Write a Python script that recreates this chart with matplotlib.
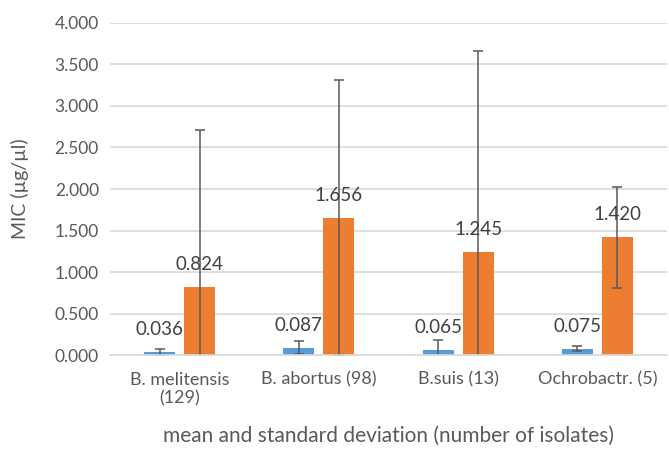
import numpy as np
import matplotlib
matplotlib.use('Agg')
import matplotlib.pyplot as plt

plt.rcParams['font.family'] = ['Lato', 'DejaVu Sans']

# data
categories = ['B. melitensis\n(129)', 'B. abortus (98)', 'B.suis (13)', 'Ochrobactr. (5)']
blue_mean = [0.036, 0.087, 0.065, 0.075]
blue_sd = [0.033, 0.079, 0.116, 0.030]
orange_mean = [0.824, 1.656, 1.245, 1.420]
orange_sd = [1.887, 1.661, 2.418, 0.610]

blue = '#5B9BD5'
orange = '#ED7D31'
grey = '#595959'

fig = plt.figure(figsize=(6.69, 4.50), dpi=100)
ax = fig.add_axes([0.1644, 0.211, 0.8326, 0.738])

x = np.arange(len(categories))
w = 0.223
off = 0.144

eb = dict(ecolor=grey, elinewidth=1.1, capsize=3.5, capthick=1.1)
b1 = ax.bar(x - off, blue_mean, w, color=blue, yerr=blue_sd, error_kw=eb, zorder=2)
b2 = ax.bar(x + off, orange_mean, w, color=orange, yerr=orange_sd, error_kw=eb, zorder=2)

for bars, vals in ((b1, blue_mean), (b2, orange_mean)):
    for r, v in zip(bars, vals):
        ax.annotate(f'{v:.3f}', (r.get_x() + r.get_width() / 2, v),
                    xytext=(0, 10), textcoords='offset points',
                    ha='center', va='bottom', fontsize=13.5, color='#404040', zorder=3)

ax.set_xlim(-0.5, len(categories) - 0.5)
ax.set_ylim(0, 4)
ax.set_yticks(np.arange(0, 4.01, 0.5))
ax.set_yticklabels([f'{t:.3f}' for t in np.arange(0, 4.01, 0.5)])
ax.set_xticks(x)
ax.set_xticklabels(categories)

ax.yaxis.grid(True, color='#D9D9D9', linewidth=1.2, zorder=0)
ax.set_axisbelow(True)
for s in ['top', 'right', 'left']:
    ax.spines[s].set_visible(False)
ax.spines['bottom'].set_color('#D9D9D9')
ax.spines['bottom'].set_linewidth(1.2)
ax.tick_params(axis='y', length=0, labelsize=12.5, colors=grey, pad=8)
ax.tick_params(axis='x', length=0, labelsize=13, colors=grey, pad=12)

ax.set_ylabel('MIC (µg/µl)', fontsize=14, color=grey, labelpad=18)
ax.set_xlabel('mean and standard deviation (number of isolates)', fontsize=15, color=grey, labelpad=14)

fig.savefig('out.png', dpi=100)
